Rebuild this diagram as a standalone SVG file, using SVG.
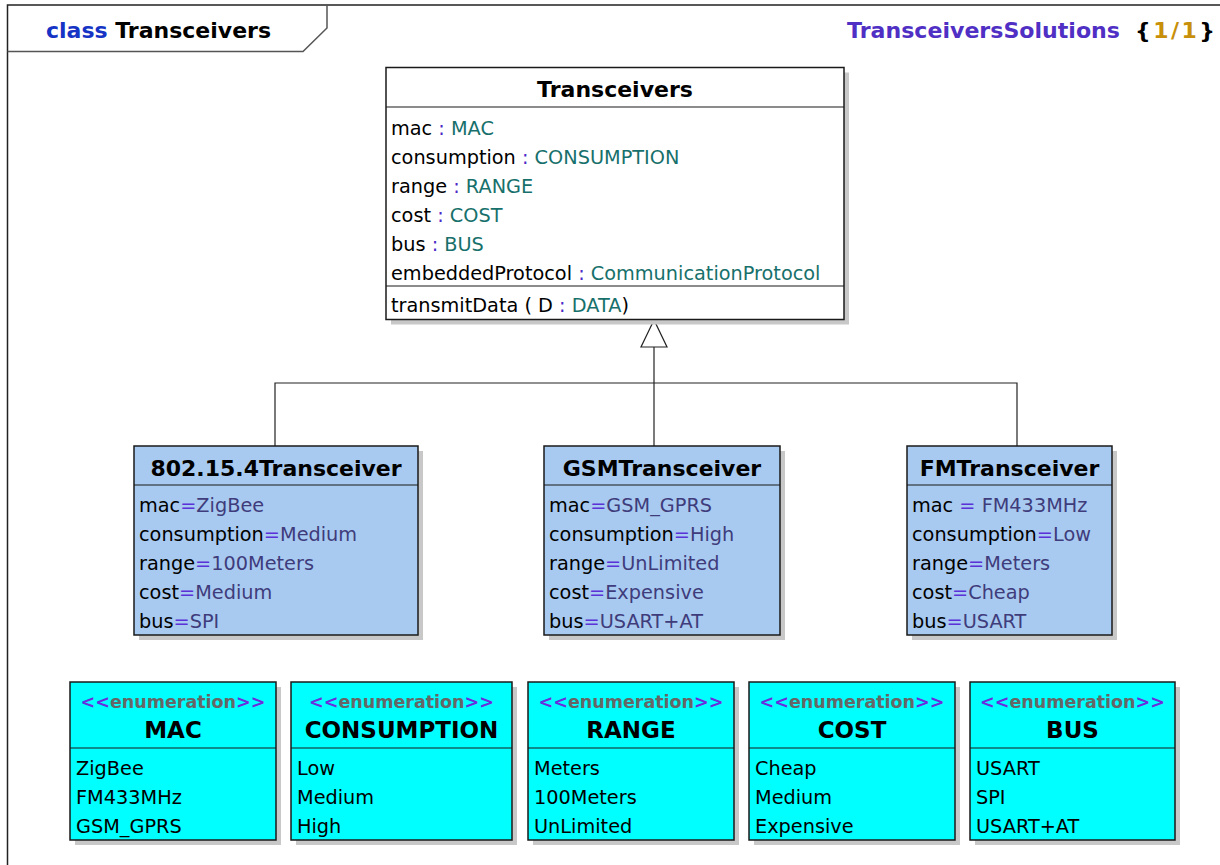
<svg xmlns="http://www.w3.org/2000/svg" width="1220" height="865" viewBox="0 0 1220 865">
<style>
.box{stroke:#1a1a1a;stroke-width:1.5}
.dv{stroke:#1a1a1a;stroke-width:1.2}
.sh{fill:#c8c8c8}
.t{font-family:"DejaVu Sans",Verdana,sans-serif;font-size:19.3px;fill:#000}
.b{font-family:"DejaVu Sans",Verdana,sans-serif;font-weight:bold;font-size:22px;fill:#000}
.en-n{font-size:23px}
.st{font-family:"DejaVu Sans",Verdana,sans-serif;font-weight:bold;font-size:17.5px;fill:#666}
.p{fill:#4b2ac8}
.ty{fill:#17706b}
.v{fill:#3f3c7c}
.eq{fill:#5a32d8}
.sg{fill:#6a2cdc}
.ln{stroke:#222;stroke-width:1.2;fill:none}
.sub{fill:#a8caf0}
.en{fill:#00ffff}
</style>
<rect x="0" y="0" width="1220" height="865" fill="#fff"/>
<g id="frame">
<path d="M7.5,865 V5 H1220" fill="none" stroke="#222" stroke-width="1.5"/>
<path d="M7.5,51.5 H303 L327,28 V5" fill="none" stroke="#555" stroke-width="1.5"/>
<text class="b" x="46" y="38"><tspan fill="#1533c4">class</tspan> Transceivers</text>
<text class="b" x="847" y="38" style="fill:#4f2fc4" textLength="273" lengthAdjust="spacingAndGlyphs">TransceiversSolutions</text>
<text class="b" x="1135" y="38" textLength="80" lengthAdjust="spacing">{<tspan fill="#c8900a">1/1</tspan>}</text>
</g>
<g id="connectors">
<path class="ln" d="M654,347 V446"/>
<path class="ln" d="M275,446 V383 H1017 V446"/>
<polygon points="654,320 641,347 667,347" fill="#fff" stroke="#222" stroke-width="1.2"/>
</g>
<g id="Transceivers">
<rect class="sh" x="391" y="72.5" width="458" height="252"/>
<rect class="box" x="386" y="67.5" width="458" height="252" fill="#fff"/>
<line class="dv" x1="386" y1="107" x2="844" y2="107"/>
<line class="dv" x1="386" y1="286" x2="844" y2="286"/>
<text class="b" x="615" y="97" text-anchor="middle">Transceivers</text>
<text class="t" x="391" y="135">mac<tspan class="p"> : </tspan><tspan class="ty">MAC</tspan></text>
<text class="t" x="391" y="164">consumption<tspan class="p"> : </tspan><tspan class="ty">CONSUMPTION</tspan></text>
<text class="t" x="391" y="193">range<tspan class="p"> : </tspan><tspan class="ty">RANGE</tspan></text>
<text class="t" x="391" y="222">cost<tspan class="p"> : </tspan><tspan class="ty">COST</tspan></text>
<text class="t" x="391" y="251">bus<tspan class="p"> : </tspan><tspan class="ty">BUS</tspan></text>
<text class="t" x="391" y="280">embeddedProtocol<tspan class="p"> : </tspan><tspan class="ty">CommunicationProtocol</tspan></text>
<text class="t" x="391" y="312">transmitData ( D<tspan class="p"> : </tspan><tspan class="ty">DATA</tspan>)</text>
</g>
<g id="Transceiver802154">
<rect class="sh" x="139" y="451" width="284" height="189"/>
<rect class="box sub" x="134" y="446" width="284" height="189"/>
<line class="dv" x1="134" y1="485" x2="418" y2="485"/>
<text class="b" x="276" y="476" text-anchor="middle">802.15.4Transceiver</text>
<text class="t" x="139" y="511.5">mac<tspan class="eq">=</tspan><tspan class="v">ZigBee</tspan></text>
<text class="t" x="139" y="540.5">consumption<tspan class="eq">=</tspan><tspan class="v">Medium</tspan></text>
<text class="t" x="139" y="569.5">range<tspan class="eq">=</tspan><tspan class="v">100Meters</tspan></text>
<text class="t" x="139" y="598.5">cost<tspan class="eq">=</tspan><tspan class="v">Medium</tspan></text>
<text class="t" x="139" y="627.5">bus<tspan class="eq">=</tspan><tspan class="v">SPI</tspan></text>
</g>
<g id="GSMTransceiver">
<rect class="sh" x="549" y="451" width="236" height="189"/>
<rect class="box sub" x="544" y="446" width="236" height="189"/>
<line class="dv" x1="544" y1="485" x2="780" y2="485"/>
<text class="b" x="662" y="476" text-anchor="middle">GSMTransceiver</text>
<text class="t" x="549" y="511.5">mac<tspan class="eq">=</tspan><tspan class="v">GSM_GPRS</tspan></text>
<text class="t" x="549" y="540.5">consumption<tspan class="eq">=</tspan><tspan class="v">High</tspan></text>
<text class="t" x="549" y="569.5">range<tspan class="eq">=</tspan><tspan class="v">UnLimited</tspan></text>
<text class="t" x="549" y="598.5">cost<tspan class="eq">=</tspan><tspan class="v">Expensive</tspan></text>
<text class="t" x="549" y="627.5">bus<tspan class="eq">=</tspan><tspan class="v">USART+AT</tspan></text>
</g>
<g id="FMTransceiver">
<rect class="sh" x="912" y="451" width="205" height="189"/>
<rect class="box sub" x="907" y="446" width="205" height="189"/>
<line class="dv" x1="907" y1="485" x2="1112" y2="485"/>
<text class="b" x="1009.5" y="476" text-anchor="middle">FMTransceiver</text>
<text class="t" x="912" y="511.5">mac<tspan class="eq"> = </tspan><tspan class="v">FM433MHz</tspan></text>
<text class="t" x="912" y="540.5">consumption<tspan class="eq">=</tspan><tspan class="v">Low</tspan></text>
<text class="t" x="912" y="569.5">range<tspan class="eq">=</tspan><tspan class="v">Meters</tspan></text>
<text class="t" x="912" y="598.5">cost<tspan class="eq">=</tspan><tspan class="v">Cheap</tspan></text>
<text class="t" x="912" y="627.5">bus<tspan class="eq">=</tspan><tspan class="v">USART</tspan></text>
</g>
<g id="MAC">
<rect class="sh" x="75" y="687" width="206" height="158"/>
<rect class="box en" x="70" y="682" width="206" height="158"/>
<line class="dv" x1="70" y1="748" x2="276" y2="748"/>
<text class="st" x="173" y="708" text-anchor="middle"><tspan class="sg">&lt;&lt;</tspan>enumeration<tspan class="sg">&gt;&gt;</tspan></text>
<text class="b en-n" x="173" y="738" text-anchor="middle">MAC</text>
<text class="t" x="76" y="775">ZigBee</text>
<text class="t" x="76" y="804">FM433MHz</text>
<text class="t" x="76" y="833">GSM_GPRS</text>
</g>
<g id="CONSUMPTION">
<rect class="sh" x="296" y="687" width="221" height="158"/>
<rect class="box en" x="291" y="682" width="221" height="158"/>
<line class="dv" x1="291" y1="748" x2="512" y2="748"/>
<text class="st" x="401.5" y="708" text-anchor="middle"><tspan class="sg">&lt;&lt;</tspan>enumeration<tspan class="sg">&gt;&gt;</tspan></text>
<text class="b en-n" x="401.5" y="738" text-anchor="middle">CONSUMPTION</text>
<text class="t" x="297" y="775">Low</text>
<text class="t" x="297" y="804">Medium</text>
<text class="t" x="297" y="833">High</text>
</g>
<g id="RANGE">
<rect class="sh" x="533" y="687" width="206" height="158"/>
<rect class="box en" x="528" y="682" width="206" height="158"/>
<line class="dv" x1="528" y1="748" x2="734" y2="748"/>
<text class="st" x="631" y="708" text-anchor="middle"><tspan class="sg">&lt;&lt;</tspan>enumeration<tspan class="sg">&gt;&gt;</tspan></text>
<text class="b en-n" x="631" y="738" text-anchor="middle">RANGE</text>
<text class="t" x="534" y="775">Meters</text>
<text class="t" x="534" y="804">100Meters</text>
<text class="t" x="534" y="833">UnLimited</text>
</g>
<g id="COST">
<rect class="sh" x="754" y="687" width="206" height="158"/>
<rect class="box en" x="749" y="682" width="206" height="158"/>
<line class="dv" x1="749" y1="748" x2="955" y2="748"/>
<text class="st" x="852" y="708" text-anchor="middle"><tspan class="sg">&lt;&lt;</tspan>enumeration<tspan class="sg">&gt;&gt;</tspan></text>
<text class="b en-n" x="852" y="738" text-anchor="middle">COST</text>
<text class="t" x="755" y="775">Cheap</text>
<text class="t" x="755" y="804">Medium</text>
<text class="t" x="755" y="833">Expensive</text>
</g>
<g id="BUS">
<rect class="sh" x="975" y="687" width="205" height="158"/>
<rect class="box en" x="970" y="682" width="205" height="158"/>
<line class="dv" x1="970" y1="748" x2="1175" y2="748"/>
<text class="st" x="1072.5" y="708" text-anchor="middle"><tspan class="sg">&lt;&lt;</tspan>enumeration<tspan class="sg">&gt;&gt;</tspan></text>
<text class="b en-n" x="1072.5" y="738" text-anchor="middle">BUS</text>
<text class="t" x="976" y="775">USART</text>
<text class="t" x="976" y="804">SPI</text>
<text class="t" x="976" y="833">USART+AT</text>
</g>
</svg>
